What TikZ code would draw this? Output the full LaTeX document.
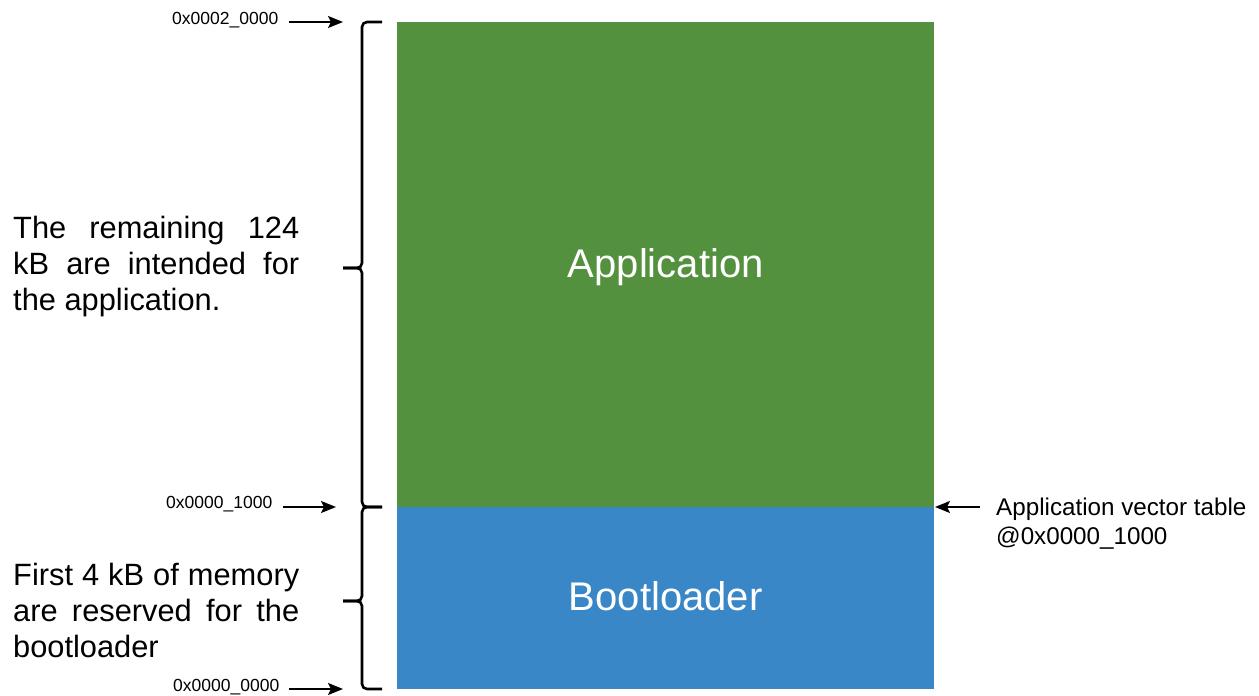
\documentclass[tikz,border=0pt]{standalone}
\usepackage{fontspec}
\setmainfont{Liberation Sans}
\usetikzlibrary{arrows.meta}
\definecolor{appgreen}{RGB}{84,145,62}
\definecolor{bootblue}{RGB}{58,135,200}
\begin{document}
\begin{tikzpicture}[x=1pt,y=-1pt,
 addr/.style={anchor=west,inner sep=0pt,font=\fontsize{17.5}{21}\selectfont},
 ptr/.style={line width=2pt,-{Stealth[length=15pt,width=12pt,inset=3pt]}},
 brace/.style={line width=2.6pt,rounded corners=5pt},
 region/.style={draw=none,inner sep=0pt,anchor=north west,text=white,
   minimum width=537pt,text height=25pt,text depth=0pt,font=\fontsize{40}{48}\selectfont},
 desc/.style={anchor=west,inner sep=0pt,font=\fontsize{30.8}{36}\selectfont}]
\useasboundingbox (0,0) rectangle (1259,696);
% memory regions
\node[region,fill=appgreen,minimum height=485pt] (app) at (397,22) {Application};
\node[region,fill=bootblue,minimum height=182pt] (boot) at (397,507) {Bootloader};
% braces
\draw[brace] (382,22) -- (362,22) -- (362,268) -- (343,268);
\draw[brace] (343,268) -- (362,268) -- (362,507) -- (382,507);
\draw[brace] (382,507) -- (362,507) -- (362,601) -- (343,601);
\draw[brace] (343,601) -- (362,601) -- (362,689) -- (382,689);
% address labels
\node[addr] (atop) at (172,20) {0x0002\_0000};
\node[addr] (amid) at (166,504) {0x0000\_1000};
\node[addr] (abot) at (173,687) {0x0000\_0000};
\coordinate (ts) at (289,22);  \coordinate (te) at (343,22);
\coordinate (ms) at (283,507); \coordinate (me) at (336,507);
\coordinate (bs) at (289,689); \coordinate (be) at (343,689);
\draw[ptr] (ts) -- (te);
\draw[ptr] (ms) -- (me);
\draw[ptr] (bs) -- (be);
% vector table label
\node[anchor=west,inner sep=0pt,align=left,font=\fontsize{24.2}{29}\selectfont] (vt) at (996,524)
  {Application vector table\\@0x0000\_1000};
\coordinate (vs) at (980,507);
\coordinate (ve) at (935,507);
\draw[ptr] (vs) -- (ve);
% descriptions
\node[desc] (remtext) at (13,267) {\parbox{286pt}{The remaining 124\linebreak kB are intended for\linebreak the application.}};
\node[desc] (firsttext) at (13,610) {\parbox{286pt}{First 4 kB of memory\linebreak are reserved for the\linebreak bootloader}};
\end{tikzpicture}
\end{document}
